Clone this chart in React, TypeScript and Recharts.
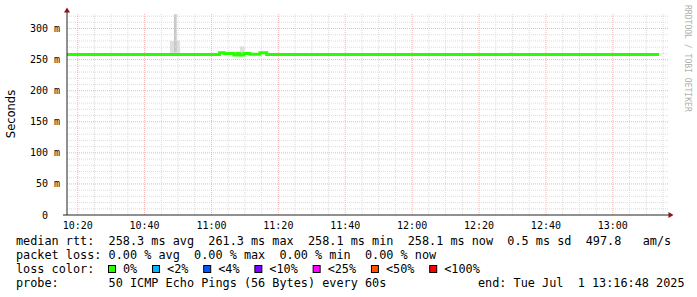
import { ComposedChart, XAxis, YAxis, Line, Area, ReferenceLine, ReferenceDot } from "recharts";

// minutes since 10:00
const xStart = 16.8;
const xEnd = 196.8;
const timeTicks = [20, 40, 60, 80, 100, 120, 140, 160, 180];
const timeMinorTicks = [25, 30, 35, 45, 50, 55, 65, 70, 75, 85, 90, 95, 105, 110, 115, 125, 130, 135, 145, 150, 155, 165, 170, 175, 185, 190, 195];
const valueTicks = [0, 50, 100, 150, 200, 250, 300];
const valueMinorTicks = [10, 20, 30, 40, 60, 70, 80, 90, 110, 120, 130, 140, 160, 170, 180, 190, 210, 220, 230, 240, 260, 270, 280, 290, 310, 320];

// median rtt (ms), step series
const medianTimes = [16.8, 62.4, 63.8, 66.7, 67.7, 68.5, 69.7, 71.5, 74.5, 76.5, 193.8];
const medianValues = [258.3, 260.9, 259.9, 257.5, 259.9, 257.5, 259.9, 258.5, 261.2, 258.3, 258.3];

// smoke (ping spread), [low, high] ms
const smokeLightTimes = [47.6, 50.6, 50.7, 68.5, 69.9, 70.0, 149.3, 150.2];
const smokeLightValues = [[260, 280], [260, 280], null, [260, 271], [260, 271], null, [259, 262], [259, 262]];
const smokeDarkTimes = [48.8, 49.6];
const smokeDarkValues = [[262, 323], [262, 323]];

const lossLabels = ["0%", "<2%", "<4%", "<10%", "<25%", "<50%", "<100%"];
const lossColors = ["#26ff00", "#00b8ff", "#0059ff", "#7e00ff", "#ff00ff", "#ff5500", "#ff0000"];

const statsLine = "median rtt:  258.3 ms avg  261.3 ms max  258.1 ms min  258.1 ms now  0.5 ms sd  497.8   am/s";
const lossLine = "packet loss: 0.00 % avg  0.00 % max  0.00 % min  0.00 % now";
const probeLine = "probe:       50 ICMP Echo Pings (56 Bytes) every 60s";
const endLine = "end: Tue Jul  1 13:16:48 2025";

const medianData = medianTimes.map((t, i) => ({ t, v: medianValues[i] }));
const smokeLight = smokeLightTimes.map((t, i) => ({ t, v: smokeLightValues[i] }));
const smokeDark = smokeDarkTimes.map((t, i) => ({ t, v: smokeDarkValues[i] }));

const mono = "'DejaVu Sans Mono', monospace";
const charW = 7.12;

function fmtTime(m: number) {
  const h = 10 + Math.floor(m / 60);
  const mm = m % 60;
  return `${h}:${mm < 10 ? "0" : ""}${mm}`;
}

const upArrow = (p: any) => (
  <polygon points={`${p.cx - 3},${p.cy + 2.5} ${p.cx + 3},${p.cy + 2.5} ${p.cx},${p.cy - 2.5}`} fill="#8b1414" />
);
const rightArrow = (p: any) => (
  <polygon points={`${p.cx - 2.5},${p.cy - 3} ${p.cx - 2.5},${p.cy + 3} ${p.cx + 2.5},${p.cy}`} fill="#8b1414" />
);

function Legend() {
  let x = 108;
  const boxes = lossLabels.map((label, i) => {
    const bx = x;
    x = x + 15 + label.length * charW + 14.8;
    return (
      <g key={label}>
        <rect x={bx + 0.5} y={265.5} width={7} height={7} fill={lossColors[i]} stroke="#000" strokeWidth={1} />
        <text x={bx + 15} y={273} style={{ whiteSpace: "pre" }}>{label}</text>
      </g>
    );
  });
  return (
    <svg width={697} height={297} style={{ position: "absolute", left: 0, top: 0, pointerEvents: "none" }}>
      <g fontFamily={mono} fontSize={11.83} fill="#000">
        <text x={16} y={245} style={{ whiteSpace: "pre" }}>{statsLine}</text>
        <text x={16} y={259} style={{ whiteSpace: "pre" }}>{lossLine}</text>
        <text x={16} y={273}>loss color:</text>
        {boxes}
        <text x={16} y={287} style={{ whiteSpace: "pre" }}>{probeLine}</text>
        <text x={478} y={287} style={{ whiteSpace: "pre" }}>{endLine}</text>
      </g>
      <text x={0} y={0} transform="translate(15,114) rotate(-90)" textAnchor="middle" fontFamily="'DejaVu Sans', sans-serif" fontSize={11.5} fill="#000">
        Seconds
      </text>
      <text x={0} y={0} transform="translate(684.5,5) rotate(90)" fontFamily={mono} fontSize={8.07} fill="#b0b0b0">
        RRDTOOL / TOBI OETIKER
      </text>
    </svg>
  );
}

export default function App() {
  return (
    <div style={{ position: "absolute", left: 0, top: 0, width: 697, height: 297, background: "#fff" }}>
      <ComposedChart width={697} height={297} margin={{ top: 13, right: 28, bottom: 62, left: 0 }}>
        <XAxis
          dataKey="t"
          type="number"
          domain={[xStart, xEnd]}
          allowDataOverflow
          ticks={timeTicks}
          tickFormatter={fmtTime}
          axisLine={false}
          tickLine={false}
          tickSize={0}
          tickMargin={7}
          height={20}
          interval={0}
          tick={{ fontFamily: mono, fontSize: 10, fill: "#000" }}
        />
        <YAxis
          type="number"
          domain={[0, 325]}
          allowDataOverflow
          ticks={valueTicks}
          tickFormatter={(v: number) => (v === 0 ? "0\u00a0\u00a0" : `${v} m`)}
          axisLine={false}
          tickLine={false}
          tickSize={0}
          tickMargin={7}
          width={67}
          interval={0}
          tick={{ fontFamily: mono, fontSize: 10, fill: "#000" }}
        />
        {valueMinorTicks.map((v) => (
          <ReferenceLine key={`hm${v}`} y={v} stroke="#dcdcdc" strokeDasharray="1 1" />
        ))}
        {timeMinorTicks.map((t) => (
          <ReferenceLine key={`vm${t}`} x={t} stroke="#dcdcdc" strokeDasharray="1 1" />
        ))}
        {valueTicks.slice(1).map((v) => (
          <ReferenceLine key={`hM${v}`} y={v} stroke="#f0b6b6" strokeDasharray="1 1" />
        ))}
        {timeTicks.map((t) => (
          <ReferenceLine key={`vM${t}`} x={t} stroke="#f0b6b6" strokeDasharray="1 1" />
        ))}
        <Area data={smokeLight} dataKey="v" type="stepAfter" fill="#dedede" fillOpacity={1} stroke="none" isAnimationActive={false} />
        <Area data={smokeDark} dataKey="v" type="stepAfter" fill="#c8c8c8" fillOpacity={1} stroke="none" isAnimationActive={false} />
        <Line data={medianData} dataKey="v" type="stepAfter" stroke="#26ff00" strokeWidth={3} dot={false} isAnimationActive={false} />
        <ReferenceLine segment={[{ x: xStart, y: 0 }, { x: xStart, y: 329 }]} stroke="#222" strokeWidth={1} ifOverflow="visible" />
        <ReferenceLine segment={[{ x: 15.6, y: 0 }, { x: 197.2, y: 0 }]} stroke="#222" strokeWidth={1} ifOverflow="visible" />
        <ReferenceDot x={xStart} y={330} ifOverflow="visible" shape={upArrow} />
        <ReferenceDot x={197.4} y={0} ifOverflow="visible" shape={rightArrow} />
      </ComposedChart>
      <Legend />
    </div>
  );
}
